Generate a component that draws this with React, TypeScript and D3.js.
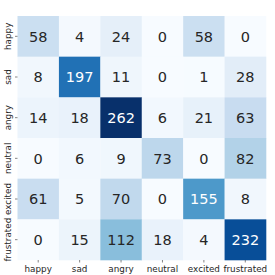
import React from "react";
import * as d3 from "d3";

const labels = ["happy", "sad", "angry", "neutral", "excited", "frustrated"];
const matrix = [
  [58, 4, 24, 0, 58, 0],
  [8, 197, 11, 0, 1, 28],
  [14, 18, 262, 6, 21, 63],
  [0, 6, 9, 73, 0, 82],
  [61, 5, 70, 0, 155, 8],
  [0, 15, 112, 18, 4, 232],
];

const blues = ["#f7fbff", "#deebf7", "#c6dbef", "#9ecae1", "#6baed6", "#4292c6", "#2171b5", "#08519c", "#08306b"];

export default function App() {
  const W = 275, H = 275;
  const x0 = 17.5, x1 = 266, y0 = 16, y1 = 260;
  const x = d3.scaleBand<string>().domain(labels).range([x0, x1]);
  const y = d3.scaleBand<string>().domain(labels).range([y0, y1]);
  const vmax = d3.max(matrix.flat()) as number;
  const color = d3.scaleLinear<string>()
    .domain(blues.map((_, i) => (i / (blues.length - 1)) * vmax))
    .range(blues)
    .interpolate(d3.interpolateRgb);
  const lum = (c: string) => {
    const r = d3.rgb(c);
    const f = (v: number) => {
      v /= 255;
      return v <= 0.03928 ? v / 12.92 : Math.pow((v + 0.055) / 1.055, 2.4);
    };
    return 0.2126 * f(r.r) + 0.7152 * f(r.g) + 0.0722 * f(r.b);
  };
  const font = "DejaVu Sans";
  return (
    <svg width={W} height={H} style={{ position: "absolute", left: 0, top: 0 }}>
      <rect width={W} height={H} fill="#fff" />
      {matrix.map((row, i) =>
        row.map((v, j) => {
          const c = color(v);
          const tc = lum(c) > 0.408 ? "#262626" : "#ffffff";
          const cx = (x(labels[j]) as number) + x.bandwidth() / 2;
          const cy = (y(labels[i]) as number) + y.bandwidth() / 2;
          return (
            <g key={`${i}-${j}`}>
              <rect x={x(labels[j])} y={y(labels[i])} width={x.bandwidth() + 0.3} height={y.bandwidth() + 0.3} fill={c} />
              <text x={cx} y={cy} dy="0.36em" textAnchor="middle" fontFamily={font} fontSize={14.5} fill={tc}>{v}</text>
            </g>
          );
        })
      )}
      {labels.map((l) => {
        const cx = (x(l) as number) + x.bandwidth() / 2;
        return (
          <g key={"x" + l}>
            <line x1={cx} x2={cx} y1={y1} y2={y1 + 2.5} stroke="#333" strokeWidth={0.6} />
            <text x={cx} y={272} textAnchor="middle" fontFamily={font} fontSize={8.8} fill="#262626">{l}</text>
          </g>
        );
      })}
      {labels.map((l) => {
        const cy = (y(l) as number) + y.bandwidth() / 2;
        return (
          <g key={"y" + l}>
            <line x1={x0 - 2.5} x2={x0} y1={cy} y2={cy} stroke="#333" strokeWidth={0.6} />
            <text transform={`translate(${x0 - 7},${cy}) rotate(-90)`} textAnchor="middle" fontFamily={font} fontSize={8.8} fill="#262626">{l}</text>
          </g>
        );
      })}
    </svg>
  );
}
